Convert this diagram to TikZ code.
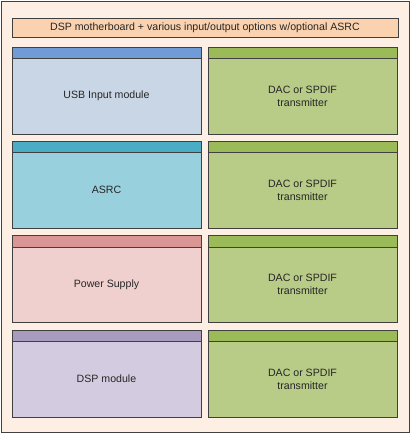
\documentclass[tikz,border=0pt]{standalone}
\usepackage{fontspec}
\setmainfont{Liberation Sans}
\usetikzlibrary{positioning, calc}
\definecolor{boardbg}{HTML}{FDEFE4}
\definecolor{titlebg}{HTML}{FAD2AF}
\definecolor{usbhead}{HTML}{6F9BD7}
\definecolor{usbbody}{HTML}{C9D6E6}
\definecolor{asrchead}{HTML}{4BACC6}
\definecolor{asrcbody}{HTML}{98D1DD}
\definecolor{pwrhead}{HTML}{D99694}
\definecolor{pwrbody}{HTML}{F0D0CF}
\definecolor{dsphead}{HTML}{A99BBE}
\definecolor{dspbody}{HTML}{D3CBDF}
\definecolor{dachead}{HTML}{9BBB59}
\definecolor{dacbody}{HTML}{B8CB87}
\definecolor{edge}{HTML}{404040}

\begin{document}
\begin{tikzpicture}[x=1pt, y=-1pt,
        label/.style={font=\fontsize{10.6}{13}\selectfont, align=center, text=black!85}]
        \useasboundingbox (0,0) rectangle (411,434);

        % Motherboard
        \draw[edge, line width=0.8pt, fill=boardbg] (1,1) rectangle (409,432);

        % Title bar
        \draw[edge, line width=0.6pt, fill=titlebg] (12,18) rectangle (398,37);
        \node[label] (title) at (205,27.5) {DSP motherboard + various input/output options w/optional ASRC};

        % Module slots (left: module, right: DAC)
        \foreach \top/\head/\body/\txt [count=\i] in {47/usbhead/usbbody/USB Input module,
                141/asrchead/asrcbody/ASRC,
                235.5/pwrhead/pwrbody/Power Supply,
                330/dsphead/dspbody/DSP module} {
            % left module
            \draw[edge, line width=0.6pt, fill=\body] (12,\top) rectangle (201,\top+87);
            \draw[edge, line width=0.6pt, fill=\head] (12,\top) rectangle (201,\top+11.5);
            \node[label] (mod\i) at (106.5,\top+49) {\txt};
            % right DAC
            \draw[edge, line width=0.6pt, fill=dacbody] (208,\top) rectangle (397,\top+87);
            \draw[edge, line width=0.6pt, fill=dachead] (208,\top) rectangle (397,\top+11.5);
            \node[label] (dac\i) at (302.5,\top+49) {DAC or SPDIF\\transmitter};
        }
    \end{tikzpicture}
\end{document}
